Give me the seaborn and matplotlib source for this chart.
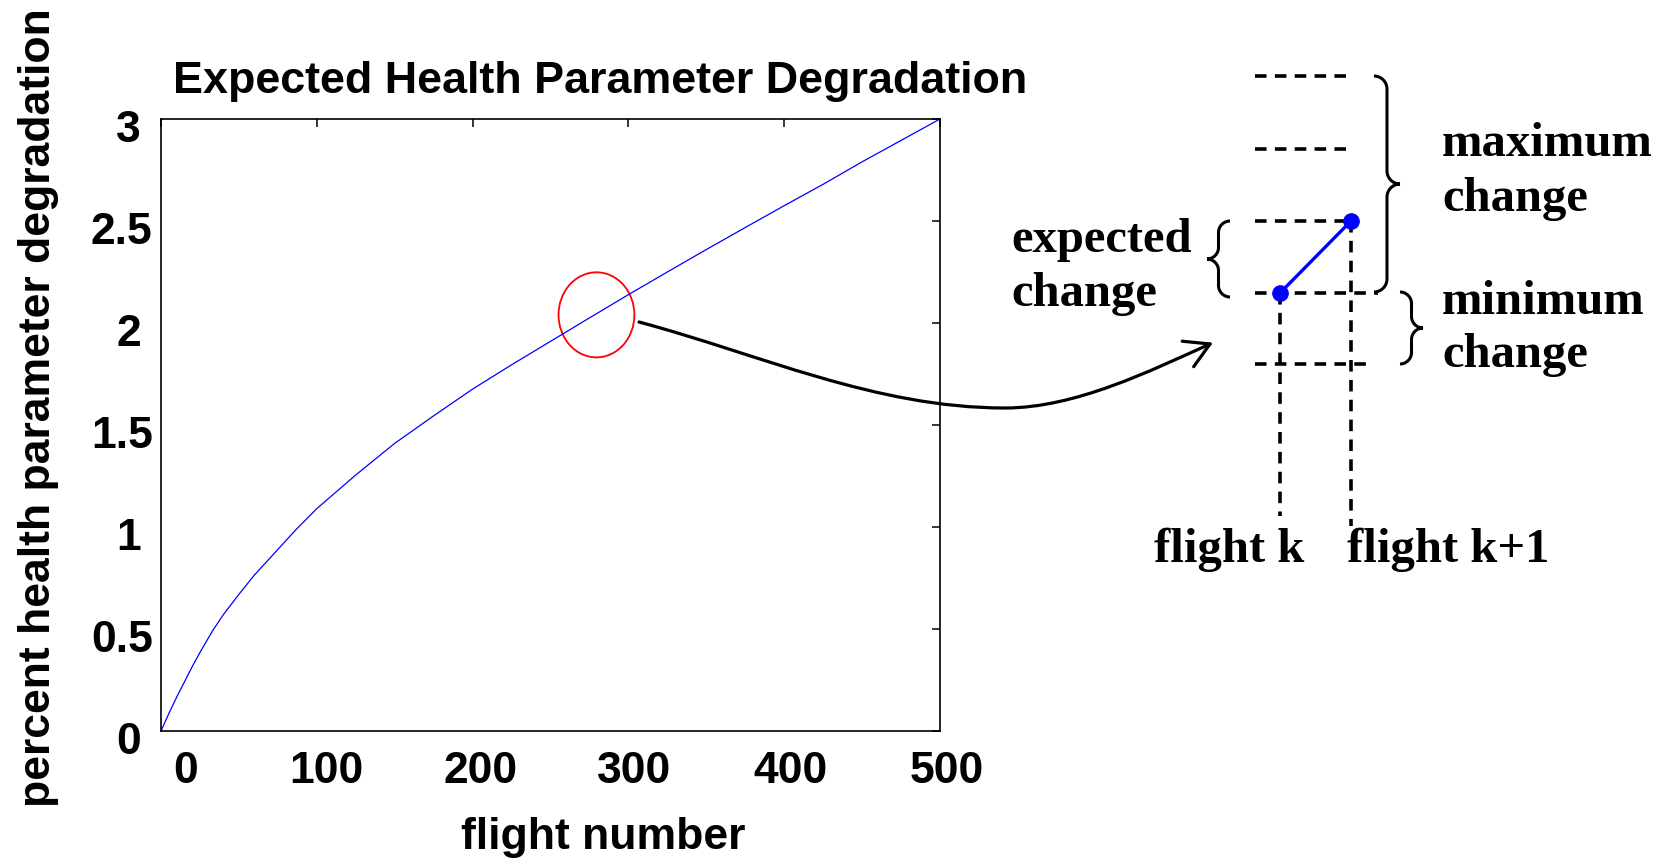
import numpy as np
import matplotlib
matplotlib.use("Agg")
import matplotlib.pyplot as plt
import seaborn as sns
import pandas as pd
from matplotlib.path import Path
from matplotlib.patches import PathPatch, Ellipse
from matplotlib.ticker import FuncFormatter
import matplotlib.transforms as mtrans

# values
flights = [0, 5, 10, 15, 20, 25, 33, 40, 50, 60, 75, 87, 100, 125, 150, 175, 200,
           225, 250, 275, 300, 325, 350, 375, 400, 425, 450, 475, 500]
degradation = [0.0, 0.085, 0.165, 0.24, 0.315, 0.385, 0.49, 0.57, 0.67, 0.765, 0.89,
               0.99, 1.09, 1.255, 1.41, 1.545, 1.676, 1.795, 1.91, 2.025, 2.139,
               2.25, 2.36, 2.468, 2.575, 2.68, 2.79, 2.895, 3.0]
xticks = [0, 100, 200, 300, 400, 500]
yticks = [0, 0.5, 1, 1.5, 2, 2.5, 3]

# zoomed schematic (drawn in pixel space of the figure)
step_x = [1280, 1351]          # flight k, flight k+1
step_y = [294, 222]
level_y = [77, 149.5, 222, 294, 365]

df = pd.DataFrame({"flight": flights, "deg": degradation})

sns.set_style("white")
plt.rcParams["font.family"] = ["Liberation Sans", "DejaVu Sans"]
plt.rcParams["text.color"] = "black"
plt.rcParams["xtick.color"] = "black"
plt.rcParams["ytick.color"] = "black"

W, H = 1663, 862
fig = plt.figure(figsize=(W / 100, H / 100), dpi=100)
ax = fig.add_axes([161 / W, 1 - 732 / H, (940 - 161) / W, (732 - 120) / H])

sns.lineplot(data=df, x="flight", y="deg", ax=ax, color="blue", lw=0.9)
ax.set_xlim(0, 500)
ax.set_ylim(0, 3)
ax.set_xticks(xticks)
ax.set_yticks(yticks)
ax.yaxis.set_major_formatter(FuncFormatter(lambda v, p: f"{v:g}"))
ax.set_xlabel("")
ax.set_ylabel("")
for s in ax.spines.values():
    s.set_visible(True)
    s.set_linewidth(1.2)
    s.set_color("black")
ax.tick_params(direction="in", top=True, right=True, length=6, width=1.1,
               labelsize=32, color="black", labelcolor="black")
ax.tick_params(axis="x", pad=14)
ax.tick_params(axis="y", pad=6)
for lab in ax.get_xticklabels() + ax.get_yticklabels():
    lab.set_fontweight("bold")

# small label offsets like the original export
xoff = [25, 10, 8, 6, 6, 7]
for lab, dx in zip(ax.get_xticklabels(), xoff):
    lab.set_transform(lab.get_transform() + mtrans.ScaledTranslation(dx / 100, 0, fig.dpi_scale_trans))
for lab in ax.get_yticklabels():
    dx = -12 if len(lab.get_text()) == 1 else 0
    lab.set_transform(lab.get_transform() + mtrans.ScaledTranslation(dx / 100, -6 / 100, fig.dpi_scale_trans))

ax.add_patch(Ellipse((279.5, 2.04), 48.7, 0.417, fill=False, ec="red", lw=1.3, clip_on=False))

fig.text(600 / W, 1 - 82 / H, "Expected Health Parameter Degradation", ha="center", va="center",
         fontsize=32.3, fontweight="bold")
fig.text(603 / W, 1 - 838 / H, "flight number", ha="center", va="center", fontsize=32, fontweight="bold")
fig.text(39 / W, 1 - 408 / H, "percent health parameter degradation", ha="center", va="center",
         rotation=90, fontsize=32, fontweight="bold")

# overlay for schematic, pixel coords with y downward
ov = fig.add_axes([0, 0, 1, 1], zorder=5)
ov.set_xlim(0, W)
ov.set_ylim(H, 0)
ov.set_facecolor("none")
ov.axis("off")

dash = dict(color="black", lw=2.6, linestyle=(0, (3.2, 2.3)))
ends = [1350, 1350, 1350, 1378, 1374]
for yy, xe in zip(level_y, ends):
    ov.plot([1255, xe], [yy, yy], **dash)
ov.plot([step_x[0], step_x[0]], [step_y[0], 517], **dash)
ov.plot([step_x[1], step_x[1]], [step_y[1], 527], **dash)

ov.plot(step_x, step_y, color="blue", lw=2.4, marker="o", ms=11, mfc="blue", mec="blue")


def brace(a, x0, ytop, ybot, xtip, lw=2.2):
    w = xtip - x0
    xm = x0 + w / 2
    ym = (ytop + ybot) / 2
    r = abs(w) * 0.5
    k = 0.55
    verts = [(x0, ytop),
             (x0 + k * w / 2, ytop), (xm, ytop + r - k * r), (xm, ytop + r),
             (xm, ym - r),
             (xm, ym - r + k * r), (xtip - k * w / 2, ym), (xtip, ym),
             (xtip - k * w / 2, ym), (xm, ym + r - k * r), (xm, ym + r),
             (xm, ybot - r),
             (xm, ybot - r + k * r), (x0 + k * w / 2, ybot), (x0, ybot)]
    codes = [Path.MOVETO] + [Path.CURVE4] * 3 + [Path.LINETO] + [Path.CURVE4] * 6 + \
            [Path.LINETO] + [Path.CURVE4] * 3
    a.add_patch(PathPatch(Path(verts, codes), fill=False, ec="black", lw=lw))


brace(ov, 1374, 77, 293, 1400)
brace(ov, 1400, 293, 365, 1423)
brace(ov, 1230, 222, 298, 1207)

# curved arrow
verts = [(639, 323), (759, 355), (875, 409), (1005, 409),
         (1075, 409), (1150, 372), (1210, 345)]
codes = [Path.MOVETO] + [Path.CURVE4] * 6
ov.add_patch(PathPatch(Path(verts, codes), fill=False, ec="black", lw=2.3, capstyle="round"))
tip = np.array([1210, 345])
back = np.array([-0.91, 0.41])
for ang in (30, -30):
    t = np.radians(ang)
    rot = np.array([[np.cos(t), -np.sin(t)], [np.sin(t), np.cos(t)]])
    p = tip + 28 * rot @ back
    ov.plot([tip[0], p[0]], [tip[1], p[1]], color="black", lw=2.3, solid_capstyle="round")

serif = dict(family=["Liberation Serif", "DejaVu Serif"], fontsize=35, fontweight="bold",
             va="baseline", color="black")
ov.text(1011, 252, "expected", **serif)
ov.text(1011, 306.5, "change", **serif)
ov.text(1442, 156, "maximum", **serif)
ov.text(1442, 211, "change", **serif)
ov.text(1442, 314, "minimum", **serif)
ov.text(1442, 367, "change", **serif)
ov.text(1154, 562, "flight k", **serif)
ov.text(1347, 562, "flight k+1", **serif)

fig.savefig("out.png", dpi=100)
